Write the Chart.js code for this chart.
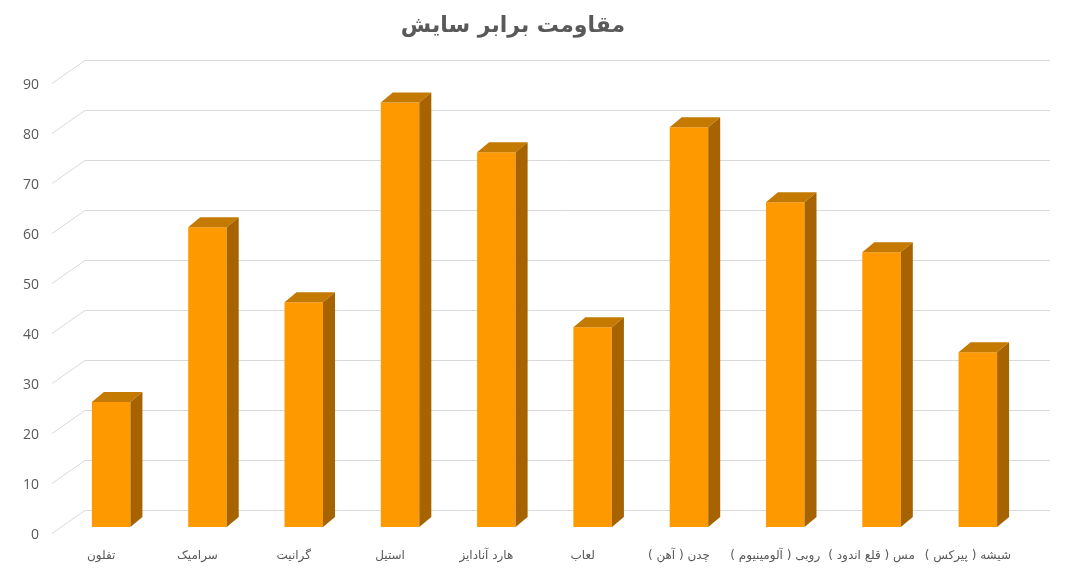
<!DOCTYPE html>
<html>
<head>
<meta charset="utf-8">
<script src="https://cdn.jsdelivr.net/npm/chart.js@4/dist/chart.umd.min.js"></script>
<style>
  html, body { margin: 0; padding: 0; background: #fff; }
  #chart { display: block; direction: rtl; }
</style>
</head>
<body>
<canvas id="chart" width="1080" height="569" dir="rtl"></canvas>
<script>
var chartTitle = "مقاومت برابر سایش";
var categories = ["تفلون", "سرامیک", "گرانیت", "استیل", "هارد آنادایز", "لعاب",
	"چدن ( آهن )", "روبی ( آلومینیوم )", "مس ( قلع اندود )", "شیشه ( پیرکس )"];
var wearValues = [25, 60, 45, 85, 75, 40, 80, 65, 55, 35];
var yTicks = [0, 10, 20, 30, 40, 50, 60, 70, 80, 90];

var textColor = "#595959";
var gridColor = "#d9d9d9";
var frontColor = "#ff9900";
var topColor = "#c47a00";
var sideColor = "#a66300";

// fake excel 3d look: back wall grid + top/side faces of the bars
var depth3d = {
	id: "depth3d",
	beforeDraw: function(chart) {
		// persian labels, brackets need an rtl base
		chart.ctx.direction = "rtl";
	},
	beforeDatasetsDraw: function(chart) {
		var ctx = chart.ctx;
		var y = chart.scales.y;
		ctx.save();
		ctx.strokeStyle = gridColor;
		ctx.lineWidth = 1;
		for (var i = 0; i < yTicks.length; i++) {
			var py = Math.round(y.getPixelForValue(yTicks[i])) + 0.5;
			ctx.beginPath();
			ctx.moveTo(52, py + 6);
			ctx.lineTo(85, py - 17);
			ctx.lineTo(1050, py - 17);
			ctx.stroke();
		}
		ctx.restore();
	},
	afterDatasetsDraw: function(chart) {
		var ctx = chart.ctx;
		var bars = chart.getDatasetMeta(0).data;
		var dx = 12, dy = 10;
		ctx.save();
		for (var i = 0; i < bars.length; i++) {
			var b = bars[i];
			var left = b.x - b.width / 2;
			var right = b.x + b.width / 2;
			ctx.fillStyle = topColor;
			ctx.beginPath();
			ctx.moveTo(left, b.y);
			ctx.lineTo(left + dx, b.y - dy);
			ctx.lineTo(right + dx, b.y - dy);
			ctx.lineTo(right, b.y);
			ctx.closePath();
			ctx.fill();
			ctx.fillStyle = sideColor;
			ctx.beginPath();
			ctx.moveTo(right, b.y);
			ctx.lineTo(right + dx, b.y - dy);
			ctx.lineTo(right + dx, b.base - dy);
			ctx.lineTo(right, b.base);
			ctx.closePath();
			ctx.fill();
		}
		ctx.restore();
	}
};

var ctx = document.getElementById("chart").getContext("2d");
var chart = new Chart(ctx, {
	type: "bar",
	data: {
		labels: categories,
		datasets: [{
			data: wearValues,
			backgroundColor: frontColor,
			borderWidth: 0,
			barPercentage: 0.4,
			categoryPercentage: 1
		}]
	},
	options: {
		responsive: false,
		animation: false,
		devicePixelRatio: 1,
		layout: { padding: { left: 0, right: 54, top: 0, bottom: 0 } },
		plugins: {
			legend: { display: false },
			tooltip: { enabled: false },
			title: {
				display: true,
				text: chartTitle,
				color: textColor,
				font: { family: "DejaVu Sans", size: 22, weight: "bold" },
				padding: { top: 13, bottom: 38 }
			}
		},
		scales: {
			x: {
				grid: { display: false },
				border: { display: false },
				ticks: {
					color: textColor,
					font: { family: "DejaVu Sans", size: 12 },
					labelOffset: -10,
					padding: 14,
					maxRotation: 0,
					autoSkip: false
				},
				afterFit: function(axis) { axis.height = 42; }
			},
			y: {
				min: 0,
				max: 90,
				grid: { display: false },
				border: { display: false },
				ticks: {
					stepSize: 10,
					color: textColor,
					font: { family: "Open Sans", size: 14 },
					padding: 16,
					labelOffset: 8
				},
				afterFit: function(axis) { axis.width = 63; }
			}
		}
	},
	plugins: [depth3d]
});
</script>
</body>
</html>
